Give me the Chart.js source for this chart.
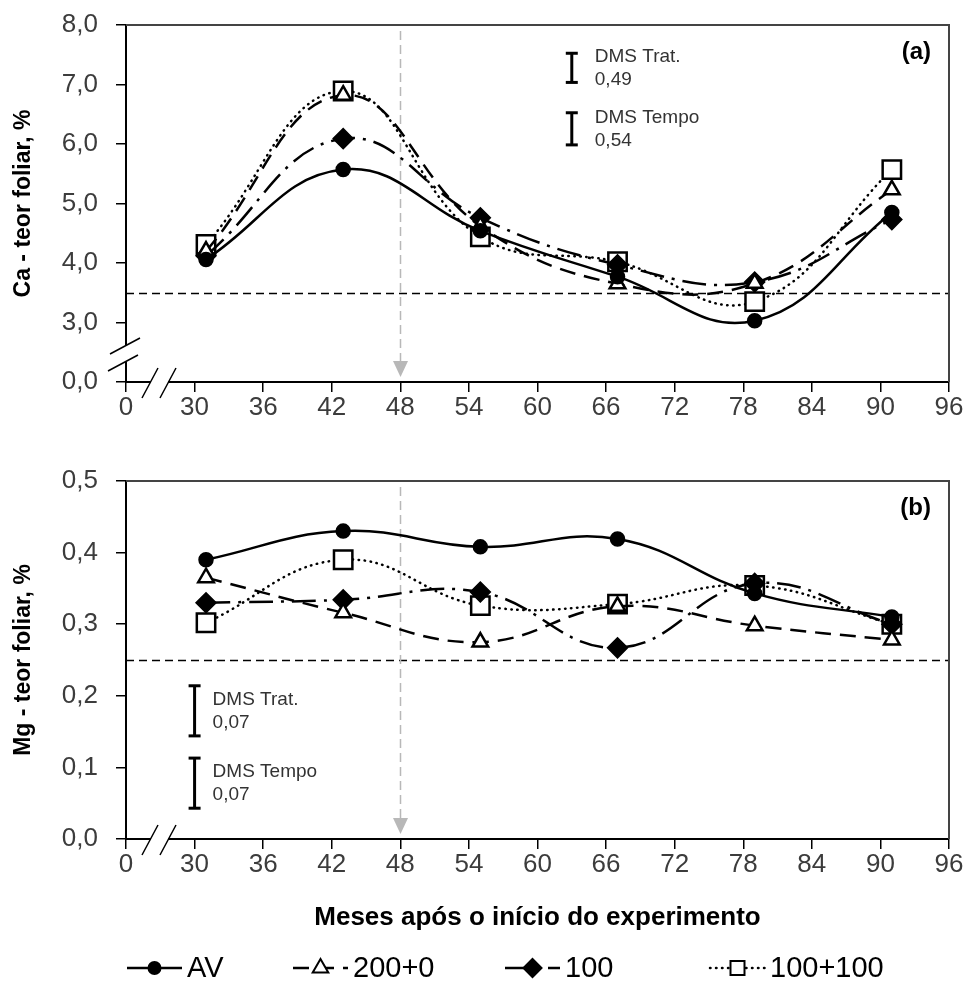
<!DOCTYPE html>
<html lang="pt">
<head>
<meta charset="utf-8">
<title>Teores foliares de Ca e Mg</title>
<script src="https://cdn.jsdelivr.net/npm/chart.js@4.4.1/dist/chart.umd.min.js"></script>
<style>
  html, body { margin: 0; padding: 0; background: #fff; }
  #painel { position: relative; width: 969px; height: 988px; }
  #painel canvas { position: absolute; left: 0; }
  #g-ca { top: 0; }
  #g-mg { top: 440px; }
</style>
</head>
<body>
<div id="painel">
  <canvas id="g-ca" width="969" height="440"></canvas>
  <canvas id="g-mg" width="969" height="548"></canvas>
</div>
<script>
'use strict';

/* ── DADOS ── */
const MESES       = [31, 43, 55, 67, 79, 91];
const TRATAMENTOS = ['AV', '200+0', '100', '100+100'];

/* Ca foliar (%) */
const CA_AV      = [4.06, 5.57, 4.54, 3.77, 3.03, 4.85];
const CA_200_0   = [4.20, 6.82, 4.62, 3.65, 3.66, 5.23];
const CA_100     = [4.12, 6.09, 4.76, 3.97, 3.68, 4.73];
const CA_100_100 = [4.31, 6.89, 4.44, 4.02, 3.35, 5.57];

/* Mg foliar (%) */
const MG_AV      = [0.390, 0.430, 0.408, 0.419, 0.343, 0.310];
const MG_200_0   = [0.365, 0.316, 0.275, 0.325, 0.298, 0.278];
const MG_100     = [0.330, 0.334, 0.345, 0.267, 0.357, 0.300];
const MG_100_100 = [0.302, 0.390, 0.326, 0.328, 0.354, 0.300];

/* Rótulos dos eixos (eixos com quebra: o primeiro rótulo é "0") */
const X_TICKS  = ['0', '30', '36', '42', '48', '54', '60', '66', '72', '78', '84', '90', '96'];
const CA_TICKS = ['0,0', '3,0', '4,0', '5,0', '6,0', '7,0', '8,0'];
const MG_TICKS = ['0,0', '0,1', '0,2', '0,3', '0,4', '0,5'];

/* Nível crítico, mês de referência e DMS */
const LIMITE_CA = 3.5;
const LIMITE_MG = 0.25;
const MES_MARCO = 48;
const DMS_ROTULOS = ['DMS Trat.', 'DMS Tempo'];
const DMS_CA = [0.49, 0.54];
const DMS_MG = [0.07, 0.07];

/* ── ESTILOS ── */
const FONTE = "'Liberation Sans', Arial, sans-serif";
const ESTILOS = [
  { dash: [],            cap: 'butt',  ponto: 'circle',   raio: 7,  fundo: '#000', borda: 1.5 },
  { dash: [16, 9],       cap: 'butt',  ponto: 'triangle', raio: 9,  fundo: '#fff', borda: 2.5 },
  { dash: [24, 8, 3, 8], cap: 'butt',  ponto: 'rectRot',  raio: 10, fundo: '#000', borda: 1.5 },
  { dash: [0.5, 5.5],    cap: 'round', ponto: 'rect',     raio: 13, fundo: '#fff', borda: 2.5 }
];

function serie(valores, i) {
  const e = ESTILOS[i];
  return {
    label: TRATAMENTOS[i],
    data: MESES.map((m, k) => ({ x: m, y: valores[k] })),
    borderColor: '#000',
    borderWidth: 2.5,
    borderDash: e.dash,
    borderCapStyle: e.cap,
    tension: 0.42,
    pointStyle: e.ponto,
    pointRadius: e.raio,
    pointBackgroundColor: e.fundo,
    pointBorderColor: '#000',
    pointBorderWidth: e.borda,
    order: 1
  };
}

/* barra vertical da DMS, centrada em "centro" */
function barraDMS(xMes, centro, dms) {
  return {
    label: '',
    data: [{ x: xMes, y: centro - dms / 2 }, { x: xMes, y: centro + dms / 2 }],
    borderColor: '#000',
    borderWidth: 3,
    tension: 0,
    pointStyle: 'line',
    pointRadius: 6,
    pointBorderColor: '#000',
    pointBorderWidth: 3,
    order: 2
  };
}

/* ── ELEMENTOS DESENHADOS À MÃO ── */
function marcador(ctx, tipo, x, y, r, fundo) {
  ctx.beginPath();
  if (tipo === 'circle') {
    ctx.arc(x, y, r, 0, Math.PI * 2);
  } else if (tipo === 'triangle') {
    ctx.moveTo(x, y - r);
    ctx.lineTo(x + r * 0.866, y + r * 0.5);
    ctx.lineTo(x - r * 0.866, y + r * 0.5);
    ctx.closePath();
  } else if (tipo === 'rectRot') {
    ctx.moveTo(x, y - r); ctx.lineTo(x + r, y); ctx.lineTo(x, y + r); ctx.lineTo(x - r, y);
    ctx.closePath();
  } else {
    ctx.rect(x - r, y - r, 2 * r, 2 * r);
  }
  ctx.fillStyle = fundo;
  ctx.fill();
  ctx.setLineDash([]);
  ctx.lineWidth = 2;
  ctx.strokeStyle = '#000';
  ctx.stroke();
}

const decoracao = {
  id: 'decoracao',
  beforeDatasetsDraw(chart, args, o) {
    const { ctx, chartArea: a, scales: { x, y } } = chart;
    ctx.save();
    /* linha do nível crítico */
    const yr = Math.round(y.getPixelForValue(o.limite)) + 0.5;
    ctx.strokeStyle = '#000';
    ctx.lineWidth = 1.5;
    ctx.setLineDash([8, 5]);
    ctx.beginPath(); ctx.moveTo(a.left, yr); ctx.lineTo(a.right, yr); ctx.stroke();
    /* linha cinza do mês de referência com seta */
    const xv = Math.round(x.getPixelForValue(MES_MARCO)) + 0.5;
    ctx.strokeStyle = '#b8b8b8';
    ctx.setLineDash([9, 5]);
    ctx.beginPath(); ctx.moveTo(xv, a.top + 6); ctx.lineTo(xv, a.bottom - 20); ctx.stroke();
    ctx.setLineDash([]);
    ctx.fillStyle = '#b8b8b8';
    ctx.beginPath();
    ctx.moveTo(xv - 7.5, a.bottom - 21); ctx.lineTo(xv + 7.5, a.bottom - 21); ctx.lineTo(xv, a.bottom - 5);
    ctx.closePath(); ctx.fill();
    ctx.restore();
  },
  afterDraw(chart, args, o) {
    const { ctx, chartArea: a, scales: { x, y } } = chart;
    ctx.save();
    /* moldura superior e direita */
    ctx.strokeStyle = '#444';
    ctx.lineWidth = 2;
    ctx.beginPath(); ctx.moveTo(a.left, a.top); ctx.lineTo(a.right, a.top); ctx.lineTo(a.right, a.bottom); ctx.stroke();

    /* quebra do eixo x */
    ctx.fillStyle = '#fff';
    ctx.fillRect(a.left + 25, a.bottom - 3, 17, 6);
    ctx.strokeStyle = '#000';
    ctx.lineWidth = 1.5;
    ctx.beginPath();
    ctx.moveTo(a.left + 16, a.bottom + 16); ctx.lineTo(a.left + 32, a.bottom - 14);
    ctx.moveTo(a.left + 34, a.bottom + 16); ctx.lineTo(a.left + 50, a.bottom - 14);
    ctx.stroke();

    /* quebra do eixo y */
    if (o.quebraY) {
      ctx.fillStyle = '#fff';
      ctx.fillRect(a.left - 3, a.bottom - 37, 6, 17);
      ctx.beginPath();
      ctx.moveTo(a.left - 16, a.bottom - 28); ctx.lineTo(a.left + 14, a.bottom - 44);
      ctx.moveTo(a.left - 18, a.bottom - 11); ctx.lineTo(a.left + 12, a.bottom - 27);
      ctx.stroke();
    }

    /* rótulo do painel */
    ctx.fillStyle = '#000';
    ctx.font = 'bold 24px ' + FONTE;
    ctx.textAlign = 'right';
    ctx.textBaseline = 'middle';
    ctx.fillText(o.painel, a.right - 18, a.top + 27);

    /* textos das DMS, ao lado de cada barra */
    ctx.font = '19px ' + FONTE;
    ctx.fillStyle = '#333';
    ctx.textAlign = 'left';
    o.dms.forEach((d, i) => {
      const px = x.getPixelForValue(o.dmsX) + o.dmsTexto;
      const py = y.getPixelForValue(o.dmsCentros[i]);
      ctx.fillText(DMS_ROTULOS[i], px, py - 11);
      ctx.fillText(d.toFixed(2).replace('.', ','), px, py + 12);
    });

    /* legenda */
    if (o.legenda) {
      const yl = o.legenda.y;
      ctx.font = '29px ' + FONTE;
      ctx.textBaseline = 'middle';
      TRATAMENTOS.forEach((nome, i) => {
        const e = ESTILOS[i];
        const xt = o.legenda.xTexto[i];
        const x0 = xt - 60, x1 = xt - 5;
        ctx.strokeStyle = '#000';
        ctx.lineWidth = 2.5;
        ctx.lineCap = e.cap;
        ctx.setLineDash(e.dash);
        ctx.beginPath(); ctx.moveTo(x0, yl); ctx.lineTo(x1, yl); ctx.stroke();
        ctx.lineCap = 'butt';
        marcador(ctx, e.ponto, (x0 + x1) / 2, yl, o.legenda.raios[i], e.fundo);
        ctx.fillStyle = '#000';
        ctx.fillText(nome, xt, yl + 1);
      });
    }
    ctx.restore();
  }
};

/* ── GRÁFICOS ── */
function eixoX(altura, titulo) {
  return {
    type: 'linear',
    min: 24, max: 96,
    afterFit: (s) => { s.height = altura; },
    afterBuildTicks: (s) => { s.ticks = X_TICKS.map((_, i) => ({ value: 24 + 6 * i })); },
    ticks: {
      color: '#3c3c3c',
      font: { family: FONTE, size: 26 },
      padding: 0,
      callback: (v, i) => X_TICKS[i]
    },
    grid: { drawOnChartArea: false, tickLength: 10, color: '#000', lineWidth: 1.5 },
    border: { color: '#000', width: 2 },
    title: titulo
      ? { display: true, text: titulo, color: '#000', font: { family: FONTE, size: 26, weight: 'bold' }, padding: 0 }
      : { display: false }
  };
}

function eixoY(min, max, passo, rotulos, titulo) {
  return {
    type: 'linear',
    min, max,
    /* largura fixa; o recuo dos rótulos não deve empurrar a área do gráfico */
    afterFit: (s) => { s.width = 126; s.paddingTop = 0; s.paddingBottom = 0; },
    afterBuildTicks: (s) => { s.ticks = rotulos.map((_, i) => ({ value: min + passo * i })); },
    ticks: {
      color: '#3c3c3c',
      font: { family: FONTE, size: 26 },
      padding: 18,
      callback: (v, i) => rotulos[i]
    },
    grid: { drawOnChartArea: false, tickLength: 10, color: '#000', lineWidth: 1.5 },
    border: { color: '#000', width: 2 },
    title: { display: true, text: titulo, color: '#000', font: { family: FONTE, size: 23, weight: 'bold' }, padding: { top: 10 } }
  };
}

function montarGrafico(id, cfg) {
  const datasets = cfg.series.map(serie);
  cfg.dms.forEach((d, i) => datasets.push(barraDMS(cfg.dmsX, cfg.dmsCentros[i], d)));
  return new Chart(document.getElementById(id), {
    type: 'line',
    data: { datasets },
    options: {
      responsive: false,
      animation: false,
      layout: { padding: cfg.padding },
      plugins: {
        legend: { display: false },
        tooltip: { enabled: false },
        decoracao: {
          limite: cfg.limite,
          quebraY: cfg.quebraY,
          painel: cfg.painel,
          dms: cfg.dms,
          dmsX: cfg.dmsX,
          dmsCentros: cfg.dmsCentros,
          dmsTexto: cfg.dmsTexto,
          legenda: cfg.legenda || null
        }
      },
      scales: { x: cfg.x, y: cfg.y }
    },
    plugins: [decoracao]
  });
}

montarGrafico('g-ca', {
  series: [CA_AV, CA_200_0, CA_100, CA_100_100],
  limite: LIMITE_CA,
  quebraY: true,
  painel: '(a)',
  dms: DMS_CA,
  dmsX: 63,
  dmsCentros: [7.28, 6.255],
  dmsTexto: 23,
  padding: { top: 25, right: 20, left: 0, bottom: 0 },
  x: eixoX(58, null),
  y: eixoY(2, 8, 1, CA_TICKS, 'Ca - teor foliar, %')
});

montarGrafico('g-mg', {
  series: [MG_AV, MG_200_0, MG_100, MG_100_100],
  limite: LIMITE_MG,
  quebraY: false,
  painel: '(b)',
  dms: DMS_MG,
  dmsX: 30,
  dmsCentros: [0.179, 0.078],
  dmsTexto: 18,
  padding: { top: 41, right: 20, left: 0, bottom: 55 },
  x: eixoX(94, 'Meses após o início do experimento'),
  y: eixoY(0, 0.5, 0.1, MG_TICKS, 'Mg - teor foliar, %'),
  legenda: { y: 528, xTexto: [187, 353, 565, 770], raios: [6, 9, 9, 7] }
});
</script>
</body>
</html>
